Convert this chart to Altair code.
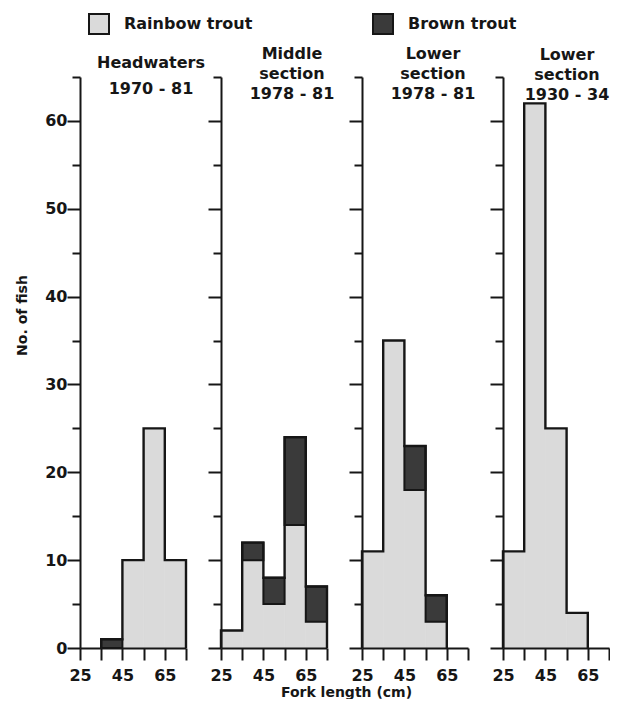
import altair as alt
import pandas as pd

# ---- data ----
bin_starts = [25, 35, 45, 55, 65]
bin_width = 10
species = ["Rainbow trout", "Brown trout"]
panel_titles = [
    ["Headwaters", "1970 - 81"],
    ["Middle", "section", "1978 - 81"],
    ["Lower", "section", "1978 - 81"],
    ["Lower", "section", "1930 - 34"],
]
rainbow = [
    [0, 0, 10, 25, 10],
    [2, 10, 5, 14, 3],
    [11, 35, 18, 3, 0],
    [11, 62, 25, 4, 0],
]
brown = [
    [0, 1, 0, 0, 0],
    [0, 2, 3, 10, 4],
    [0, 0, 5, 3, 0],
    [0, 0, 0, 0, 0],
]
x_ticks = [25, 35, 45, 55, 65, 75]
y_ticks = list(range(0, 70, 5))

RAIN = "#dadada"
BROWN = "#3a3a3a"
INK = "#161616"
FONT = "DejaVu Sans"

# ---- tables built from the arrays ----
rect_rows, env_rows = [], []
for p in range(4):
    totals = []
    for i, s in enumerate(bin_starts):
        r, b = rainbow[p][i], brown[p][i]
        totals.append(r + b)
        if r > 0:
            rect_rows.append(dict(panel=p, x0=s, x1=s + bin_width, y0=0, y1=r, species=species[0]))
        if b > 0:
            rect_rows.append(dict(panel=p, x0=s, x1=s + bin_width, y0=r, y1=r + b, species=species[1]))
    nz = [i for i, t in enumerate(totals) if t > 0]
    f, l = nz[0], nz[-1]
    pts = [(bin_starts[f], 0)]
    pts += [(bin_starts[i], totals[i]) for i in range(f, l + 1)]
    pts += [(bin_starts[l] + bin_width, totals[l]), (bin_starts[l] + bin_width, 0)]
    for k, (xv, yv) in enumerate(pts):
        env_rows.append(dict(panel=p, x0=xv, y0=yv, order=k))

rect_df = pd.DataFrame(rect_rows)
env_df = pd.DataFrame(env_rows)

xscale = alt.Scale(domain=[25, 75], nice=False, zero=False)
yscale = alt.Scale(domain=[0, 65], nice=False, zero=True)
color = alt.Color(
    "species:N",
    scale=alt.Scale(domain=species, range=[RAIN, BROWN]),
    legend=alt.Legend(
        title=None, orient="none", legendX=8, legendY=-64, direction="horizontal",
        symbolType="square", symbolSize=400, symbolStrokeColor=INK, symbolStrokeWidth=2,
        labelFont=FONT, labelFontSize=16, labelFontWeight="bold", labelColor=INK,
        labelOffset=14, columnPadding=116, labelLimit=300,
    ),
)

tick_size_cond = {"condition": {"test": "datum.value % 10 === 0", "value": 13}, "value": 8}
title_dx = [18, 18, 18, 11]
title_offset = [-37, -42, -42, -43]


def make_panel(p):
    xtitle = "Fork length (cm)" if p == 1 else None
    xaxis_kw = dict(
        values=x_ticks, labelExpr="datum.value % 20 === 5 ? datum.label : ''",
        tickSize=12, labelPadding=7, labelFlush=False, grid=False, zindex=1,
    )
    if p == 1:
        xaxis_kw.update(titleX=125, titleY=44, titleAlign="center", titleBaseline="middle",
                        titleFontSize=14)
    ytitle = "No. of fish" if p == 0 else None
    yaxis_kw = dict(values=y_ticks, tickSize=tick_size_cond, labelFlush=False, grid=False, zindex=1)
    if p == 0:
        yaxis_kw.update(labelExpr="datum.value % 10 === 0 ? datum.label : ''", labelPadding=0,
                        titleX=-58, titleY=238, titleAlign="center", titleBaseline="middle",
                        titleFontSize=14)
    else:
        yaxis_kw.update(labels=False)
    xenc = alt.X("x0:Q", title=xtitle, scale=xscale, axis=alt.Axis(**xaxis_kw))
    yenc = alt.Y("y0:Q", title=ytitle, scale=yscale, axis=alt.Axis(**yaxis_kw))

    d = rect_df[rect_df.panel == p]
    layers = []
    dr = d[d.species == species[0]]
    layers.append(alt.Chart(dr).mark_rect(stroke=RAIN, strokeWidth=0.8).encode(
        x=xenc, x2="x1:Q", y=yenc, y2="y1:Q", color=color))
    db = d[d.species == species[1]]
    if len(db):
        layers.append(alt.Chart(db).mark_rect(stroke=INK, strokeWidth=2).encode(
            x=xenc, x2="x1:Q", y=yenc, y2="y1:Q", color=color))
    de = env_df[env_df.panel == p]
    layers.append(alt.Chart(de).mark_line(
        interpolate="step-after", color=INK, strokeWidth=2.4, strokeJoin="miter").encode(
        x=xenc, y=yenc, order="order:Q"))
    lh = 26 if p == 0 else 20
    return alt.layer(*layers).properties(
        width=106, height=571,
        title=alt.TitleParams(
            text=panel_titles[p], anchor="middle", frame="group", dx=title_dx[p],
            offset=title_offset[p], baseline="bottom", lineHeight=lh, fontSize=16,
            font=FONT, fontWeight="bold", color=INK,
        ),
    )


chart = alt.hconcat(*[make_panel(p) for p in range(4)], spacing=35, bounds="flush").properties(
    padding={"left": 7, "top": 5, "right": 0, "bottom": 0}
).configure(font=FONT, background="white").configure_view(stroke=None).configure_axis(
    domainColor=INK, domainWidth=2, tickColor=INK, tickWidth=2,
    labelFont=FONT, labelFontSize=16, labelFontWeight="bold", labelColor=INK,
    titleFont=FONT, titleFontWeight="bold", titleColor=INK,
)

chart.save("out.html", embed_options={"renderer": "svg", "actions": False})
